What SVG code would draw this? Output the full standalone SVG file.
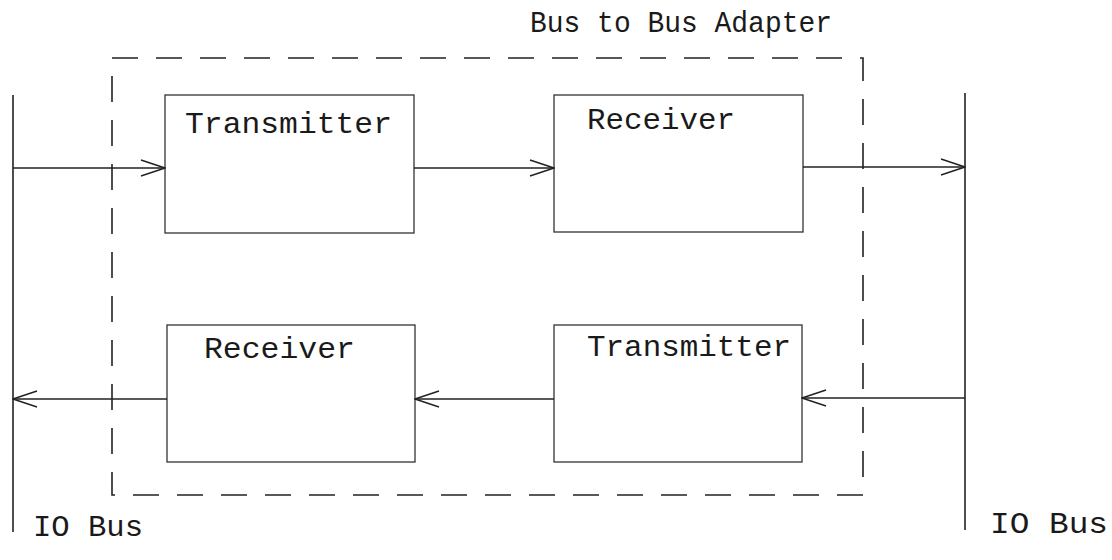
<svg xmlns="http://www.w3.org/2000/svg" width="1112" height="560" viewBox="0 0 1112 560">
<defs>
<marker id="open" viewBox="0 0 26 18" refX="25" refY="9" markerWidth="26" markerHeight="18" markerUnits="userSpaceOnUse" orient="auto">
<path d="M1,1 L25,9 L1,17" fill="none" stroke="#222" stroke-width="1.4"/>
</marker>
<style>
.box{fill:none;stroke:#333;stroke-width:1.3}
.bus{fill:none;stroke:#222;stroke-width:1.6}
.conn{fill:none;stroke:#222;stroke-width:1.3;marker-end:url(#open)}
.adapter{fill:none;stroke:#222;stroke-width:1.6;stroke-dasharray:26 18}
.lbl{font-family:"Liberation Mono","Courier New",monospace;font-size:30px;fill:#1a1a1a}
</style>
</defs>
<rect width="1112" height="560" fill="#fff"/>
<g id="adapter">
<rect class="adapter" x="112" y="58" width="751" height="437"/>
<text class="lbl" x="530" y="32" textLength="302" lengthAdjust="spacingAndGlyphs">Bus to Bus Adapter</text>
</g>
<g id="io-bus-left">
<line class="bus" x1="13" y1="95" x2="13" y2="532"/>
<text class="lbl" x="33" y="536" textLength="110" lengthAdjust="spacingAndGlyphs">IO Bus</text>
</g>
<g id="io-bus-right">
<line class="bus" x1="965" y1="93" x2="965" y2="530"/>
<text class="lbl" x="990" y="533" textLength="118" lengthAdjust="spacingAndGlyphs">IO Bus</text>
</g>
<g id="transmitter-top">
<rect class="box" x="165" y="95" width="249" height="138"/>
<text class="lbl" x="185" y="133" textLength="207" lengthAdjust="spacingAndGlyphs">Transmitter</text>
</g>
<g id="receiver-top">
<rect class="box" x="554" y="95" width="249" height="137"/>
<text class="lbl" x="587" y="129" textLength="148" lengthAdjust="spacingAndGlyphs">Receiver</text>
</g>
<g id="receiver-bottom">
<rect class="box" x="167" y="325" width="248" height="137"/>
<text class="lbl" x="204" y="358" textLength="151" lengthAdjust="spacingAndGlyphs">Receiver</text>
</g>
<g id="transmitter-bottom">
<rect class="box" x="554" y="325" width="248" height="137"/>
<text class="lbl" x="587" y="356" textLength="204" lengthAdjust="spacingAndGlyphs">Transmitter</text>
</g>
<g id="connectors">
<line class="conn" x1="13" y1="168" x2="165" y2="168"/>
<line class="conn" x1="414" y1="168" x2="554" y2="168"/>
<line class="conn" x1="803" y1="167" x2="965" y2="167"/>
<line class="conn" x1="965" y1="398" x2="802" y2="398"/>
<line class="conn" x1="554" y1="399" x2="415" y2="399"/>
<line class="conn" x1="167" y1="399" x2="13" y2="399"/>
</g>
</svg>
